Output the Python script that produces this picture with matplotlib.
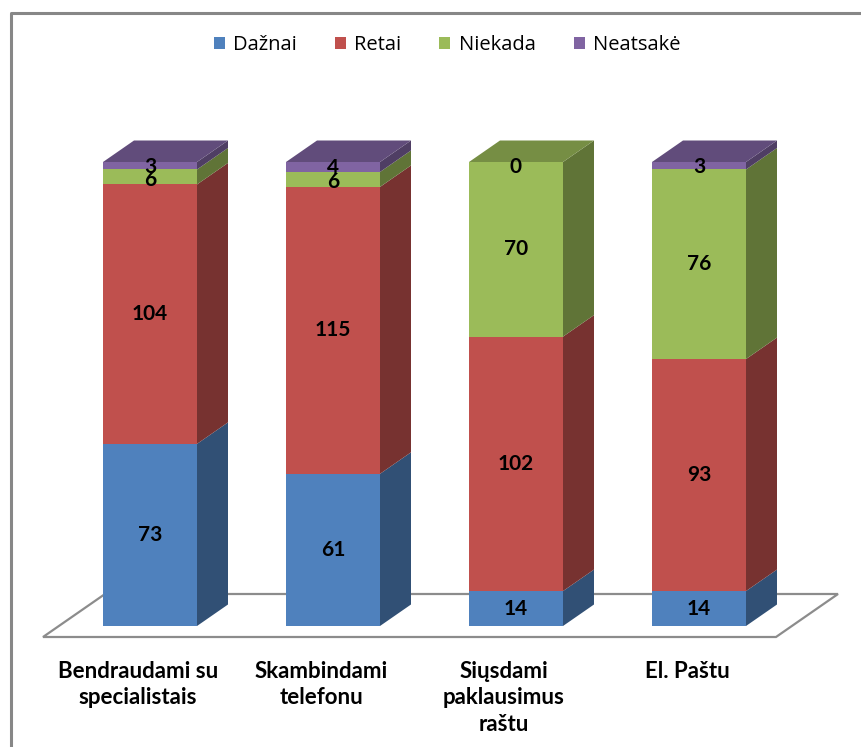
import matplotlib
matplotlib.use("Agg")
import matplotlib.pyplot as plt
from matplotlib.patches import Polygon, Patch
from matplotlib.lines import Line2D
from matplotlib.colors import to_rgb

# survey answers, every group sums to 186
categories = ["Bendraudami su\nspecialistais", "Skambindami\ntelefonu",
              "Siųsdami\npaklausimus\nraštu", "El. Paštu"]
series = ["Dažnai", "Retai", "Niekada", "Neatsakė"]
dazniai = [73, 61, 14, 14]
retai = [104, 115, 102, 93]
niekada = [6, 6, 70, 76]
neatsake = [3, 4, 0, 3]
values = [dazniai, retai, niekada, neatsake]

colors = ["#4F81BD", "#C0504D", "#9BBB59", "#8064A2"]

W, H = 861, 747
fig = plt.figure(figsize=(W / 100, H / 100), dpi=100)
ax = fig.add_axes([0, 0, 1, 1])
ax.set_axis_off()

# vertical scale: pixels per answer, base line in pixels from top
S = 464 / 186
base = 626
ax.set_xlim(0, W)
ax.set_ylim(-(H - base) / S, base / S)

bar_left = 103
bar_step = 183
bar_w = 94
dx = 31
dy = 21.5 / S


def shade(c, f):
    r, g, b = to_rgb(c)
    return (r * f, g * f, b * f)


# floor
fy0, fy1 = -11 / S, 32 / S
ax.add_patch(Polygon([(43, fy0), (776, fy0), (838, fy1), (105, fy1)],
                     closed=True, facecolor="white", edgecolor="#8C8C8C",
                     lw=1.6, zorder=1))

for i in range(len(categories)):
    x0 = bar_left + i * bar_step
    x1 = x0 + bar_w
    bottom = 0
    seg = [v[i] for v in values]
    top_idx = max(k for k, v in enumerate(seg) if v > 0)
    for k, v in enumerate(seg):
        y0, y1 = bottom, bottom + v
        c = colors[k]
        if v > 0:
            ax.add_patch(Polygon([(x0, y0), (x1, y0), (x1, y1), (x0, y1)],
                                 facecolor=c, edgecolor="none", zorder=2))
            ax.add_patch(Polygon([(x1, y0), (x1 + dx, y0 + dy),
                                  (x1 + dx, y1 + dy), (x1, y1)],
                                 facecolor=shade(c, 0.62), edgecolor="none",
                                 zorder=2))
        if k == top_idx:
            ax.add_patch(Polygon([(x0, y1), (x1, y1), (x1 + dx, y1 + dy),
                                  (x0 + dx, y1 + dy)],
                                 facecolor=shade(c, 0.76), edgecolor="none",
                                 zorder=2))
        ly = (y0 + y1) / 2
        if v == 0:
            ly = y1 - 1.5
        if k == 2 and v < 10:
            ly -= 1.2
        if k == 3 and v < 10:
            ly -= 0.6
        ax.text((x0 + x1) / 2, ly, str(v), ha="center", va="center",
                fontsize=15, fontweight="bold", family="Lato", color="black",
                zorder=3)
        bottom = y1
    ax.text((x0 + x1) / 2 - 12, -(661 - base) / S, categories[i],
            ha="center", va="top", fontsize=16, fontweight="bold",
            family="Lato", linespacing=1.32)

# chart frame (only left and top edges fall inside the image)
fig.add_artist(Line2D([11 / W, 11 / W, 1], [0, 1 - 13 / H, 1 - 13 / H],
                      color="#878787", lw=2.2, transform=fig.transFigure))

handles = [Patch(facecolor=c, edgecolor="none") for c in colors]
fig.legend(handles, series, loc="center", bbox_to_anchor=(447 / W, 1 - 45 / H),
           ncol=4, frameon=False, prop={"family": "Open Sans", "size": 14.5},
           handlelength=0.55, handleheight=0.55, handletextpad=0.4,
           columnspacing=1.9)

fig.savefig("out.png", dpi=100)
